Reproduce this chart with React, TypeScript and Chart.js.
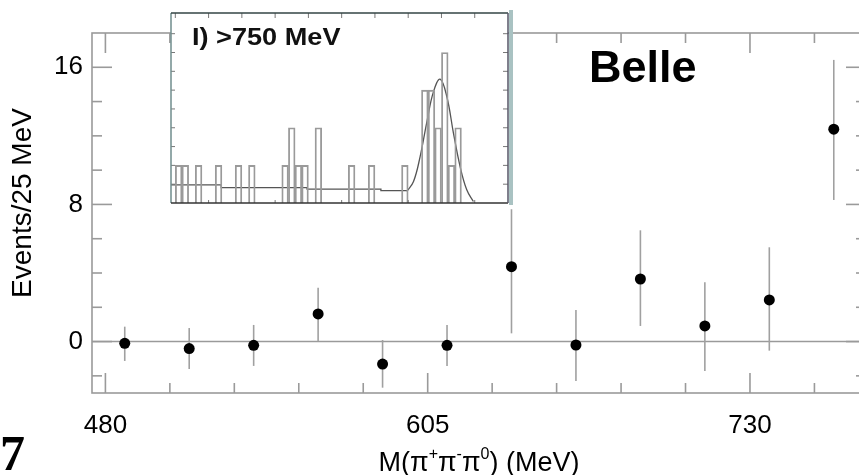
import React, { useEffect, useRef } from 'react';
import { Chart, registerables } from 'chart.js';

Chart.register(...registerables);

// ---- Main plot data ----
const massCenters = [487.5, 512.5, 537.5, 562.5, 587.5, 612.5, 637.5, 662.5, 687.5, 712.5, 737.5, 762.5];
const events = [-0.1, -0.41, -0.22, 1.61, -1.31, -0.22, 4.37, -0.2, 3.65, 0.91, 2.43, 12.39];
const errHigh = [0.87, 0.79, 0.97, 3.14, 0.09, 0.97, 7.72, 1.84, 6.49, 3.46, 5.5, 16.43];
const errLow = [-1.13, -1.6, -1.42, 0.02, -2.69, -1.42, 0.48, -2.3, 0.91, -1.71, -0.53, 8.26];
const xTickLabels = [480, 605, 730];
const yTickLabels = [0, 8, 16];

// ---- Inset data ----
const insetCounts = [
  1, 1, 0, 1, 0, 0, 1, 0, 0, 1,
  0, 1, 0, 0, 0, 0, 1, 2, 1, 1,
  0, 2, 0, 0, 0, 0, 1, 0, 0, 1,
  0, 0, 0, 0, 1, 0, 0, 3, 3, 2,
  4, 1, 2, 0, 0, 0, 0, 0, 0, 0,
];
const bgCurveX = [-0.65, 6.9, 6.9, 19.8, 19.8, 30.9, 30.9, 34.8];
const bgCurveY = [0.48, 0.48, 0.41, 0.41, 0.37, 0.37, 0.33, 0.33];
const peakCurveX = [34.8, 35.8, 36.8, 37.8, 38.8, 39.8, 40.8, 41.8, 42.8, 43.8, 44.8];
const peakCurveY = [0.31, 0.57, 1.24, 2.15, 2.96, 3.29, 2.83, 1.86, 0.97, 0.35, 0.04];

const FRAME = '#9a9a9a';
const SANS = '"Liberation Sans", Arial, Helvetica, sans-serif';

const mainDecor = {
  id: 'mainDecor',
  beforeDatasetsDraw(chart: any) {
    const { ctx, chartArea: a, scales } = chart;
    const x = scales.x;
    const y = scales.y;
    ctx.save();
    ctx.strokeStyle = FRAME;
    ctx.lineWidth = 1.6;
    const seg = (x1: number, y1: number, x2: number, y2: number) => {
      ctx.beginPath();
      ctx.moveTo(x1, y1);
      ctx.lineTo(x2, y2);
      ctx.stroke();
    };
    // zero line
    const y0 = y.getPixelForValue(0);
    seg(a.left, y0, a.right, y0);
    // frame
    ctx.strokeRect(a.left, a.top, a.right - a.left, a.bottom - a.top);
    // y ticks (left and right, inward)
    for (let v = -2; v <= 16; v += 2) {
      const py = y.getPixelForValue(v);
      const len = v % 8 === 0 ? 20 : 10;
      seg(a.left, py, a.left + len, py);
      seg(a.right, py, a.right - len, py);
    }
    // x ticks (bottom and top, inward)
    for (let v = 480; v <= 775; v += 25) {
      const px = x.getPixelForValue(v);
      const len = (v - 480) % 125 === 0 ? 20 : 10;
      seg(px, a.bottom, px, a.bottom - len);
      seg(px, a.top, px, a.top + len);
    }
    // error bars
    ctx.strokeStyle = '#a0a0a0';
    ctx.lineWidth = 1.6;
    for (let i = 0; i < massCenters.length; i++) {
      const px = x.getPixelForValue(massCenters[i]);
      seg(px, y.getPixelForValue(errLow[i]), px, y.getPixelForValue(errHigh[i]));
    }
    ctx.restore();
  },
  afterDraw(chart: any) {
    const { ctx } = chart;
    ctx.save();
    ctx.fillStyle = '#000';
    // y title
    ctx.save();
    ctx.translate(23, 203);
    ctx.rotate(-Math.PI / 2);
    ctx.font = `28px ${SANS}`;
    ctx.textAlign = 'center';
    ctx.textBaseline = 'middle';
    ctx.fillText('Events/25 MeV', 0, 0);
    ctx.restore();
    // x title with superscripts
    const parts: [string, boolean][] = [
      ['M(\u03c0', false], ['+', true], ['\u03c0', false], ['-', true], ['\u03c0', false], ['0', true], [') (MeV)', false],
    ];
    const big = `27px ${SANS}`;
    const small = `16px ${SANS}`;
    let total = 0;
    for (const [t, s] of parts) {
      ctx.font = s ? small : big;
      total += ctx.measureText(t).width;
    }
    let cx = 479 - total / 2;
    const base = 471;
    ctx.textAlign = 'left';
    ctx.textBaseline = 'alphabetic';
    for (const [t, s] of parts) {
      ctx.font = s ? small : big;
      ctx.fillText(t, cx, s ? base - 12 : base);
      cx += ctx.measureText(t).width;
    }
    // Belle
    ctx.font = `bold 45px ${SANS}`;
    ctx.fillText('Belle', 589, 82);
    // figure number
    ctx.font = 'bold 50px "Liberation Serif", "Times New Roman", serif';
    ctx.fillText('7', 0, 470);
    ctx.restore();
  },
};

const insetDecor = {
  id: 'insetDecor',
  beforeDraw(chart: any) {
    const { ctx, chartArea: a } = chart;
    ctx.save();
    ctx.fillStyle = '#fff';
    ctx.fillRect(a.left, a.top, a.right - a.left, a.bottom - a.top);
    ctx.fillStyle = '#a9c2c2';
    ctx.fillRect(a.right + 1, a.top - 3, 4, a.bottom - a.top + 5);
    ctx.restore();
  },
  afterDatasetsDraw(chart: any) {
    const { ctx, chartArea: a, scales } = chart;
    const x = scales.x;
    const y = scales.y;
    ctx.save();
    const seg = (x1: number, y1: number, x2: number, y2: number) => {
      ctx.beginPath();
      ctx.moveTo(x1, y1);
      ctx.lineTo(x2, y2);
      ctx.stroke();
    };
    ctx.strokeStyle = '#777';
    ctx.lineWidth = 1;
    for (let v = 0.5; v < 5; v += 0.5) {
      const py = y.getPixelForValue(v);
      seg(a.left, py, a.left + 4, py);
      seg(a.right, py, a.right - 5, py);
    }
    for (let v = 0; v <= 45; v += 5) {
      const px = x.getPixelForValue(v);
      seg(px, a.top, px, a.top + 5);
    }
    for (let v = 5; v <= 45; v += 10) {
      const px = x.getPixelForValue(v);
      seg(px, a.bottom, px, a.bottom - 3);
    }
    // frame
    ctx.lineWidth = 1.5;
    ctx.strokeStyle = '#6f8c8c';
    seg(a.left, a.top, a.left, a.bottom);
    ctx.strokeStyle = '#334444';
    seg(a.left, a.top, a.right, a.top);
    ctx.strokeStyle = '#333';
    seg(a.left, a.bottom, a.right, a.bottom);
    ctx.strokeStyle = '#556';
    seg(a.right, a.top, a.right, a.bottom);
    // label (wide bold face)
    ctx.fillStyle = '#111';
    ctx.font = `bold 24px ${SANS}`;
    ctx.textBaseline = 'alphabetic';
    ctx.translate(a.left + 21, a.top + 32);
    ctx.scale(1.13, 1);
    ctx.fillText('I) >750 MeV', 0, 0);
    ctx.restore();
  },
};

export default function App() {
  const mainRef = useRef<HTMLCanvasElement>(null);
  const insetRef = useRef<HTMLCanvasElement>(null);

  useEffect(() => {
    const main = new Chart(mainRef.current as HTMLCanvasElement, {
      type: 'scatter',
      data: {
        datasets: [
          {
            data: massCenters.map((m, i) => ({ x: m, y: events[i] })),
            pointRadius: 5.5,
            pointHoverRadius: 5.5,
            pointBackgroundColor: '#000',
            pointBorderColor: '#000',
            pointBorderWidth: 0,
            showLine: false,
          },
        ],
      },
      options: {
        responsive: false,
        animation: false,
        devicePixelRatio: 1,
        layout: { padding: { top: 33, right: 14, left: 0, bottom: 0 } },
        plugins: { legend: { display: false }, tooltip: { enabled: false }, title: { display: false } },
        scales: {
          x: {
            type: 'linear',
            min: 474.8,
            max: 775,
            grid: { display: false, drawTicks: false },
            border: { display: false },
            ticks: { font: { size: 26, family: SANS }, color: '#000', padding: 17, maxRotation: 0 },
            afterBuildTicks: (axis: any) => {
              axis.ticks = xTickLabels.map((v) => ({ value: v }));
            },
            afterFit: (axis: any) => {
              axis.height = 82;
            },
          },
          y: {
            type: 'linear',
            min: -3,
            max: 18,
            grid: { display: false, drawTicks: false },
            border: { display: false },
            ticks: { font: { size: 26, family: SANS }, color: '#000', padding: 9 },
            afterBuildTicks: (axis: any) => {
              axis.ticks = yTickLabels.map((v) => ({ value: v }));
            },
            afterFit: (axis: any) => {
              axis.width = 92;
            },
          },
        },
      },
      plugins: [mainDecor],
    } as any);

    const bars = insetCounts
      .map((c, j) => ({ x: j + 0.5, y: c }))
      .filter((p) => p.y > 0);

    const inset = new Chart(insetRef.current as HTMLCanvasElement, {
      type: 'line',
      data: {
        datasets: [
          {
            type: 'bar',
            data: bars,
            backgroundColor: 'rgba(0,0,0,0)',
            borderColor: '#9a9a9a',
            borderWidth: 1.2,
            borderSkipped: 'start',
            barPercentage: 1,
            categoryPercentage: 1,
          },
          {
            type: 'line',
            data: bgCurveX.map((v, i) => ({ x: v, y: bgCurveY[i] })),
            borderColor: '#555',
            borderWidth: 1.3,
            pointRadius: 0,
            tension: 0,
            fill: false,
          },
          {
            type: 'line',
            data: peakCurveX.map((v, i) => ({ x: v, y: peakCurveY[i] })),
            borderColor: '#555',
            borderWidth: 1.3,
            pointRadius: 0,
            tension: 0.4,
            fill: false,
          },
        ],
      },
      options: {
        responsive: false,
        animation: false,
        devicePixelRatio: 1,
        layout: { padding: { top: 8, right: 12, left: 11, bottom: 7 } },
        plugins: { legend: { display: false }, tooltip: { enabled: false }, title: { display: false } },
        scales: {
          x: {
            type: 'linear',
            min: -0.65,
            max: 50,
            offset: false,
            display: false,
            ticks: { includeBounds: false, stepSize: 10 },
          },
          y: { type: 'linear', min: 0, max: 5.05, display: false },
        },
      },
      plugins: [insetDecor],
    } as any);

    return () => {
      main.destroy();
      inset.destroy();
    };
  }, []);

  return (
    <div
      style={{
        position: 'fixed',
        left: 0,
        top: 0,
        width: 859,
        height: 475,
        overflow: 'hidden',
        background: '#fff',
      }}
    >
      <canvas
        ref={mainRef}
        width={880}
        height={475}
        style={{ position: 'absolute', left: 0, top: 0, width: 880, height: 475 }}
      />
      <canvas
        ref={insetRef}
        width={360}
        height={205}
        style={{ position: 'absolute', left: 160, top: 5, width: 360, height: 205 }}
      />
    </div>
  );
}
